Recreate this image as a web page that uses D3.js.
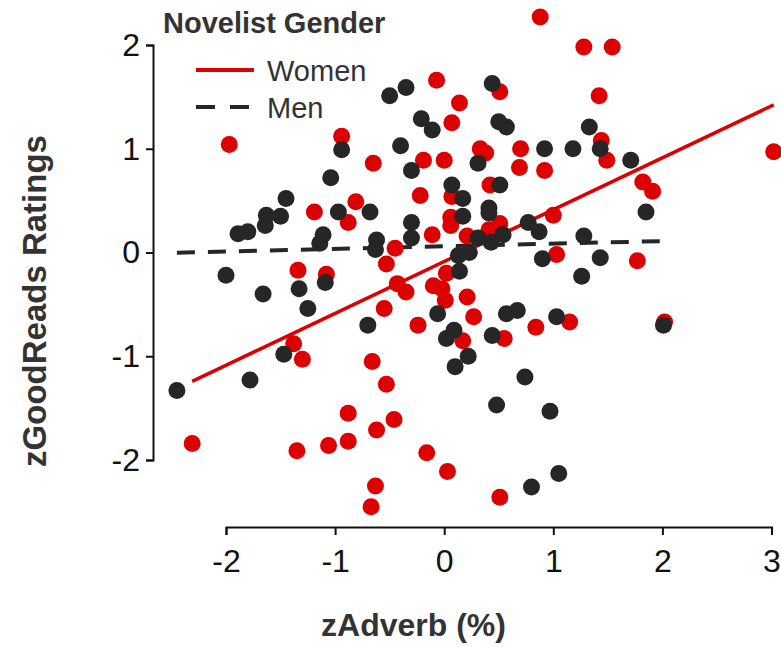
<!DOCTYPE html>
<html>
<head>
<meta charset="utf-8">
<script src="https://cdn.jsdelivr.net/npm/d3@7"></script>
<style>
    body { margin: 0; background: white; }
    text { font-family: "Liberation Sans", Arial, sans-serif; }
</style>
</head>
<body>
<div id="chart"></div>
<script>
// points: [zAdverb, zGoodReads]
const women = [
    [0.88, 2.27], [1.28, 1.98], [1.54, 1.98], [-0.07, 1.66], [0.14, 1.44], [0.07, 1.25],
    [0.51, 1.55], [1.42, 1.51], [-1.97, 1.04], [-0.94, 1.12], [-0.65, 0.86], [-0.19, 0.89],
    [0.00, 0.89], [-0.22, 0.55], [0.07, 0.54], [-0.81, 0.49], [-1.19, 0.39], [-0.88, 0.29],
    [0.06, 0.34], [0.06, 0.26], [-0.11, 0.17], [1.44, 1.08], [1.49, 0.89], [0.33, 1.00],
    [0.38, 0.96], [0.70, 1.00], [0.69, 0.82], [0.92, 0.79], [1.82, 0.68], [1.91, 0.59],
    [0.42, 0.65], [1.00, 0.36], [0.51, 0.28], [0.41, 0.22], [0.21, 0.16], [3.02, 0.97],
    [-1.34, -0.17], [-1.08, -0.21], [-1.38, -0.88], [-1.30, -1.03], [-0.45, 0.04], [-0.53, -0.11],
    [-0.43, -0.30], [-0.35, -0.38], [-0.55, -0.54], [-0.24, -0.70], [-0.10, -0.32], [-0.02, -0.35],
    [0.01, -0.46], [0.02, -0.20], [0.21, -0.43], [0.27, -0.62], [0.17, -0.85], [1.03, -0.02],
    [1.77, -0.08], [1.15, -0.67], [0.84, -0.72], [0.55, -0.83], [2.02, -0.67], [-0.66, -1.05],
    [-0.53, -1.27], [-0.88, -1.55], [-0.46, -1.61], [-0.62, -1.71], [-2.31, -1.84], [-1.35, -1.91],
    [-1.06, -1.86], [-0.88, -1.82], [-0.16, -1.93], [0.03, -2.11], [-0.63, -2.25], [-0.67, -2.45],
    [0.51, -2.36]
];

const men = [
    [-0.50, 1.51], [-0.35, 1.59], [-0.21, 1.29], [-0.11, 1.18], [0.44, 1.63], [0.50, 1.26],
    [0.57, 1.21], [1.33, 1.21], [-0.94, 0.99], [-0.40, 1.03], [-1.04, 0.72], [-0.30, 0.79],
    [0.07, 0.65], [0.17, 0.52], [-1.45, 0.52], [-0.97, 0.39], [-0.68, 0.39], [-1.63, 0.36],
    [-1.50, 0.35], [-1.64, 0.26], [-0.30, 0.29], [0.17, 0.35], [-1.89, 0.18], [-1.80, 0.20],
    [-1.11, 0.17], [-1.14, 0.09], [-0.62, 0.12], [-0.63, 0.03], [-0.30, 0.14], [0.31, 0.86],
    [0.92, 1.00], [1.18, 1.00], [1.43, 1.00], [1.71, 0.89], [1.85, 0.39], [0.51, 0.65],
    [0.41, 0.43], [0.41, 0.38], [0.77, 0.29], [0.87, 0.20], [0.31, 0.14], [0.54, 0.17],
    [0.43, 0.10], [1.28, 0.16], [0.90, -0.06], [1.43, -0.05], [1.26, -0.23], [0.13, -0.03],
    [0.23, 0.00], [0.14, -0.18], [0.57, -0.59], [0.67, -0.56], [1.03, -0.62], [0.44, -0.80],
    [-0.06, -0.59], [0.09, -0.75], [0.02, -0.83], [0.22, -1.00], [0.10, -1.10], [-0.70, -0.70],
    [-1.33, -0.35], [-1.25, -0.54], [-1.09, -0.29], [-2.00, -0.22], [-1.66, -0.40], [-1.47, -0.98],
    [-1.78, -1.23], [-2.45, -1.33], [0.74, -1.20], [0.48, -1.47], [0.97, -1.53], [0.80, -2.26],
    [1.05, -2.13], [2.01, -0.70]
];

const groups = ["Women", "Men"];
const fitSlope = [0.50, 0.025];
const fitIntercept = [-0.087, 0.06];
const xTicks = [-2, -1, 0, 1, 2, 3];
const yTicks = [-2, -1, 0, 1, 2];

var width = 781;
var height = 647;

var svg = d3.select("#chart")
    .append("svg")
    .attr("width", width)
    .attr("height", height);

var x = d3.scaleLinear().domain([-2, 3]).range([226, 771.5]);
var y = d3.scaleLinear().domain([-2, 2]).range([460, 45]);

var color = d3.scaleOrdinal().domain(groups).range(["#dd0000", "#262626"]);
var dash = d3.scaleOrdinal().domain(groups).range(["none", "18,13"]);
var series = [women, men];

// plain hyphen minus, no decimals
var fmt = function (d) { return String(d); };

// x axis, detached below the plot
var xAxis = svg.append("g")
    .attr("transform", "translate(0,527)")
    .call(d3.axisBottom(x).tickValues(xTicks).tickFormat(fmt).tickSize(8).tickSizeOuter(8).tickPadding(14));

// y axis
var yAxis = svg.append("g")
    .attr("transform", "translate(153,0)")
    .call(d3.axisLeft(y).tickValues(yTicks).tickFormat(fmt).tickSize(7).tickSizeOuter(7).tickPadding(6));

[xAxis, yAxis].forEach(function (g) {
    g.select(".domain").attr("stroke", "#111").attr("stroke-width", 2);
    g.selectAll(".tick line").attr("stroke", "#111").attr("stroke-width", 2);
    g.selectAll(".tick text")
        .style("font-size", "32px")
        .style("font-family", "'Liberation Sans', Arial, sans-serif")
        .attr("fill", "#111");
});

// axis titles
svg.append("text")
    .attr("x", 413.5)
    .attr("y", 636)
    .attr("text-anchor", "middle")
    .style("font-size", "32px")
    .style("font-weight", "bold")
    .attr("fill", "#333")
    .text("zAdverb (%)");

svg.append("text")
    .attr("transform", "translate(46,301) rotate(-90)")
    .attr("text-anchor", "middle")
    .style("font-size", "33px")
    .style("font-weight", "bold")
    .attr("fill", "#333")
    .text("zGoodReads Ratings");

// fit lines over each group's x range
groups.forEach(function (g, i) {
    var ext = d3.extent(series[i], function (d) { return d[0]; });
    svg.append("line")
        .attr("x1", x(ext[0]))
        .attr("y1", y(fitIntercept[i] + fitSlope[i] * ext[0]))
        .attr("x2", x(ext[1]))
        .attr("y2", y(fitIntercept[i] + fitSlope[i] * ext[1]))
        .attr("stroke", color(g))
        .attr("stroke-width", i == 0 ? 3.5 : 4)
        .attr("stroke-dasharray", dash(g));
});

// points, women first, men on top
groups.forEach(function (g, i) {
    svg.append("g")
        .selectAll("circle")
        .data(series[i])
        .enter()
        .append("circle")
        .attr("cx", function (d) { return x(d[0]); })
        .attr("cy", function (d) { return y(d[1]); })
        .attr("r", 8.5)
        .attr("fill", color(g));
});

// legend
svg.append("text")
    .attr("x", 163)
    .attr("y", 33)
    .style("font-size", "29px")
    .style("font-weight", "bold")
    .attr("fill", "#333")
    .text("Novelist Gender");

var legend = svg.append("g")
    .selectAll("g")
    .data(groups)
    .enter()
    .append("g")
    .attr("transform", function (d, i) { return "translate(0," + (70 + i * 37) + ")"; });

legend.append("line")
    .attr("x1", 196)
    .attr("x2", 254)
    .attr("stroke", function (d) { return color(d); })
    .attr("stroke-width", 4)
    .attr("stroke-dasharray", function (d) { return d == "Men" ? "19,15" : "none"; });

legend.append("text")
    .attr("x", 267)
    .attr("y", 11)
    .style("font-size", "29px")
    .attr("fill", "#333")
    .text(function (d) { return d; });
</script>
</body>
</html>
